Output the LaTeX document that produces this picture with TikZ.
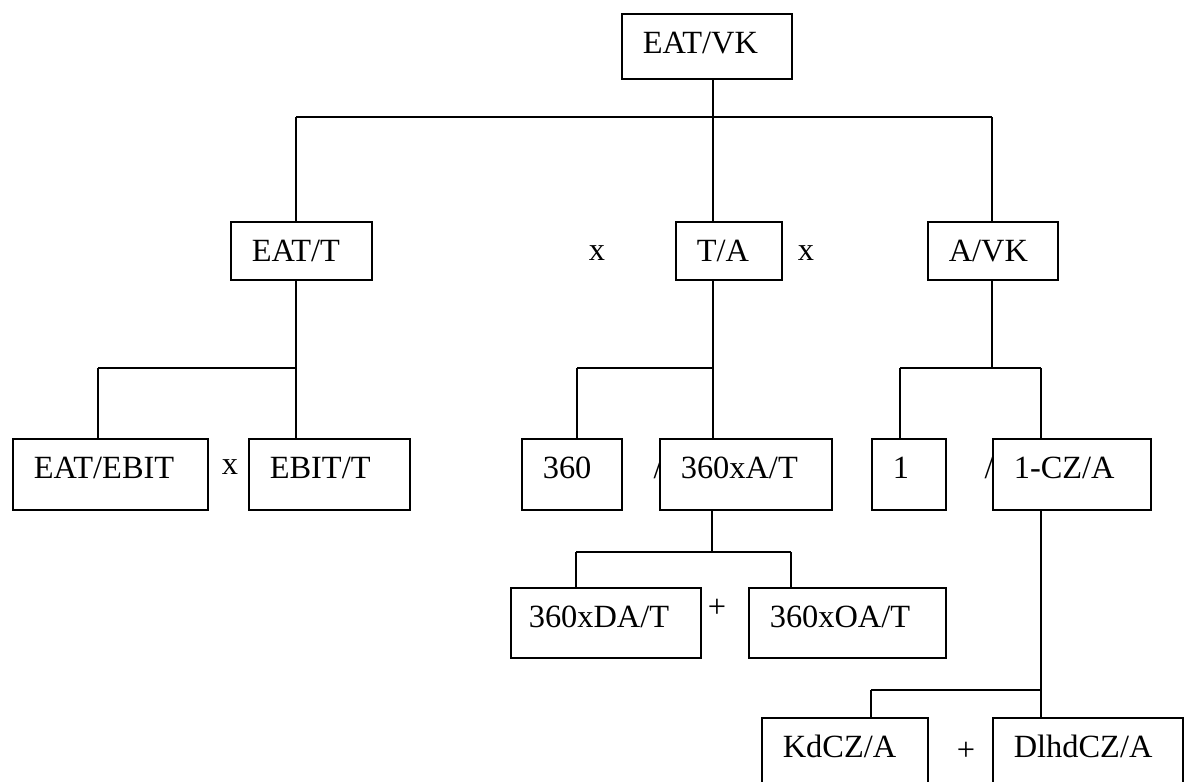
\documentclass[tikz,border=0pt]{standalone}
\usepackage{fontspec}
\setmainfont{Liberation Serif}
\begin{document}
\begin{tikzpicture}[x=1pt,y=1pt,
  box/.style={draw, fill=white, line width=1.6pt, anchor=north west, rectangle,
    inner xsep=21pt, inner ysep=0pt, align=left, text height=40pt,
    font=\fontsize{32.4}{38}\selectfont},
  sign/.style={inner sep=0pt, font=\fontsize{32.4}{38}\selectfont},
  conn/.style={line width=1.6pt}]
\useasboundingbox (0,0) rectangle (1187,-782);
\clip (0,0) rectangle (1187,-782);
% operator signs (behind boxes)
\node[sign] (s1) at (597,-253) {x};
\node[sign] (s2) at (806,-253) {x};
\node[sign] (s3) at (230,-467) {x};
\node[sign] (s4) at (658,-468) {/};
\node[sign] (s5) at (989,-468) {/};
\node[sign] (s6) at (717,-608) {+};
\node[sign] (s7) at (966,-751) {+};
% boxes
\node[box, text width=128pt, text depth=25pt] (top) at (621,-13) {EAT/VK};
\node[box, text width=99pt, text depth=18pt] (eatt) at (230,-221) {EAT/T};
\node[box, text width=64pt, text depth=18pt] (ta) at (675,-221) {T/A};
\node[box, text width=88pt, text depth=18pt] (avk) at (927,-221) {A/VK};
\node[box, text width=153pt, text depth=31pt] (eatebit) at (12,-438) {EAT/EBIT};
\node[box, text width=119pt, text depth=31pt] (ebitt) at (248,-438) {EBIT/T};
\node[box, text width=58pt, text depth=31pt] (n360) at (521,-438) {360};
\node[box, text width=130pt, text depth=31pt] (n360at) at (659,-438) {360xA/T};
\node[box, text width=32pt, text depth=31pt] (one) at (871,-438) {1};
\node[box, text width=116pt, text depth=31pt] (onecz) at (992,-438) {1-CZ/A};
\node[box, inner xsep=18pt, text width=154pt, text depth=30pt] (da) at (510,-587) {360xDA/T};
\node[box, text width=155pt, text depth=30pt] (oa) at (748,-587) {360xOA/T};
\node[box, text width=124pt, text depth=50pt] (kd) at (761,-717) {KdCZ/A};
\node[box, text width=148pt, text depth=50pt] (dl) at (992,-717) {DlhdCZ/A};
% junction coordinates
\coordinate (c0) at (713,-117);
\coordinate (cL) at (296,-117);
\coordinate (cR) at (992,-117);
\coordinate (sL1) at (98,-368);
\coordinate (sL2) at (296,-368);
\coordinate (sM1) at (577,-368);
\coordinate (sM2) at (713,-368);
\coordinate (sR0) at (992,-368);
\coordinate (sR1) at (900,-368);
\coordinate (sR2) at (1041,-368);
\coordinate (sA0) at (712,-552);
\coordinate (sA1) at (576,-552);
\coordinate (sA2) at (791,-552);
\coordinate (sC1) at (871,-690);
\coordinate (sC2) at (1041,-690);
% connectors
\draw[conn] (top.south -| c0) -- (c0);
\draw[conn] (cL) -- (cR);
\draw[conn] (cL) -- (eatt.north -| cL);
\draw[conn] (c0) -- (ta.north -| c0);
\draw[conn] (cR) -- (avk.north -| cR);
\draw[conn] (eatt.south -| sL2) -- (sL2);
\draw[conn] (sL1) -- (sL2);
\draw[conn] (sL1) -- (eatebit.north -| sL1);
\draw[conn] (sL2) -- (ebitt.north -| sL2);
\draw[conn] (ta.south -| sM2) -- (sM2);
\draw[conn] (sM1) -- (sM2);
\draw[conn] (sM1) -- (n360.north -| sM1);
\draw[conn] (sM2) -- (n360at.north -| sM2);
\draw[conn] (avk.south -| sR0) -- (sR0);
\draw[conn] (sR1) -- (sR2);
\draw[conn] (sR1) -- (one.north -| sR1);
\draw[conn] (sR2) -- (onecz.north -| sR2);
\draw[conn] (n360at.south -| sA0) -- (sA0);
\draw[conn] (sA1) -- (sA2);
\draw[conn] (sA1) -- (da.north -| sA1);
\draw[conn] (sA2) -- (oa.north -| sA2);
\draw[conn] (onecz.south -| sC2) -- (sC2);
\draw[conn] (sC1) -- (sC2);
\draw[conn] (sC1) -- (kd.north -| sC1);
\draw[conn] (sC2) -- (dl.north -| sC2);
\end{tikzpicture}
\end{document}
